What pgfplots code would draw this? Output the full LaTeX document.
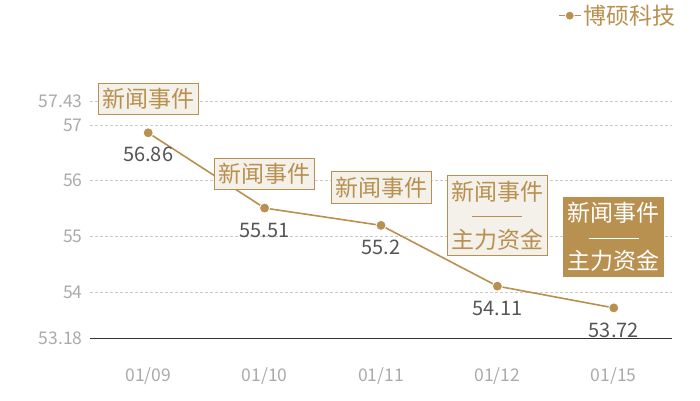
\documentclass[border=0pt]{standalone}
\usepackage{pgfplots}
\pgfplotsset{compat=1.18}
\usepackage{fontspec}
\setmainfont{Noto Sans CJK SC}
\definecolor{gold}{HTML}{B8904F}
\definecolor{paper}{HTML}{F4F0EA}
\definecolor{ticktext}{HTML}{AAAAAA}
\definecolor{valtext}{HTML}{555555}
\definecolor{gridc}{HTML}{CCCCCC}
\tikzset{annot/.style={anchor=south, draw=gold, fill=paper, text=gold,
    line width=0.8pt, minimum width=100pt, inner xsep=2pt, inner ysep=5pt,
    align=center, font=\fontsize{23}{24}\selectfont}}
\begin{document}
\begin{tikzpicture}
\useasboundingbox (0,0) rectangle (700pt,400pt);
\begin{axis}[
  at={(90pt,62pt)}, anchor=south west,
  scale only axis, width=582pt, height=237pt,
  xmin=-0.5, xmax=4.5, ymin=53.18, ymax=57.43,
  clip=false,
  axis x line*=bottom, axis y line*=left,
  x axis line style={draw=black!80, line width=0.9pt, -},
  y axis line style={draw=none},
  major tick length=0pt,
  xtick={0,1,2,3,4},
  xticklabels={01/09,01/10,01/11,01/12,01/15},
  ytick={53.18,54,55,56,57,57.43},
  yticklabels={53.18,54,55,56,57,57.43},
  ticklabel style={text=ticktext, font=\fontsize{17.5}{19}\selectfont},
  xticklabel style={yshift=-26pt},
  yticklabel style={xshift=-4pt},
  ymajorgrids,
  grid style={densely dashed, gridc, line width=0.5pt},
  /pgf/number format/assume math mode=true,
  legend style={at={(1.015,1.36)}, anchor=east, draw=none, fill=none,
    text=gold, font=\fontsize{23}{24}\selectfont},
  legend image code/.code={
    \draw[#1, mark=none] (-4pt,0pt) -- (18pt,0pt);
    \draw[#1, only marks, mark size=4.5pt] plot coordinates {(7pt,0pt)};},
]
\addplot[color=gold, line width=1.6pt, mark=*, mark size=5pt,
  mark options={fill=gold, draw=white, line width=0.8pt},
  nodes near coords,
  every node near coord/.style={anchor=center, yshift=-22pt,
    text=valtext, font=\fontsize{20}{22}\selectfont},
] coordinates {
  (0,56.86)
  (1,55.51)
  (2,55.2)
  (3,54.11)
  (4,53.72)
};
\addlegendentry{博硕科技}
\node[annot] at (axis cs:0,57.18) {新闻事件};
\node[annot] at (axis cs:1,55.84) {新闻事件};
\node[annot] at (axis cs:2,55.59) {新闻事件};
\node[annot] at (axis cs:3,54.66) {新闻事件\\\rule[7pt]{50pt}{0.8pt}\\主力资金};
\node[annot, fill=gold, text=white] at (axis cs:4,54.27) {新闻事件\\\rule[7pt]{50pt}{0.8pt}\\主力资金};
\end{axis}
\end{tikzpicture}
\end{document}
